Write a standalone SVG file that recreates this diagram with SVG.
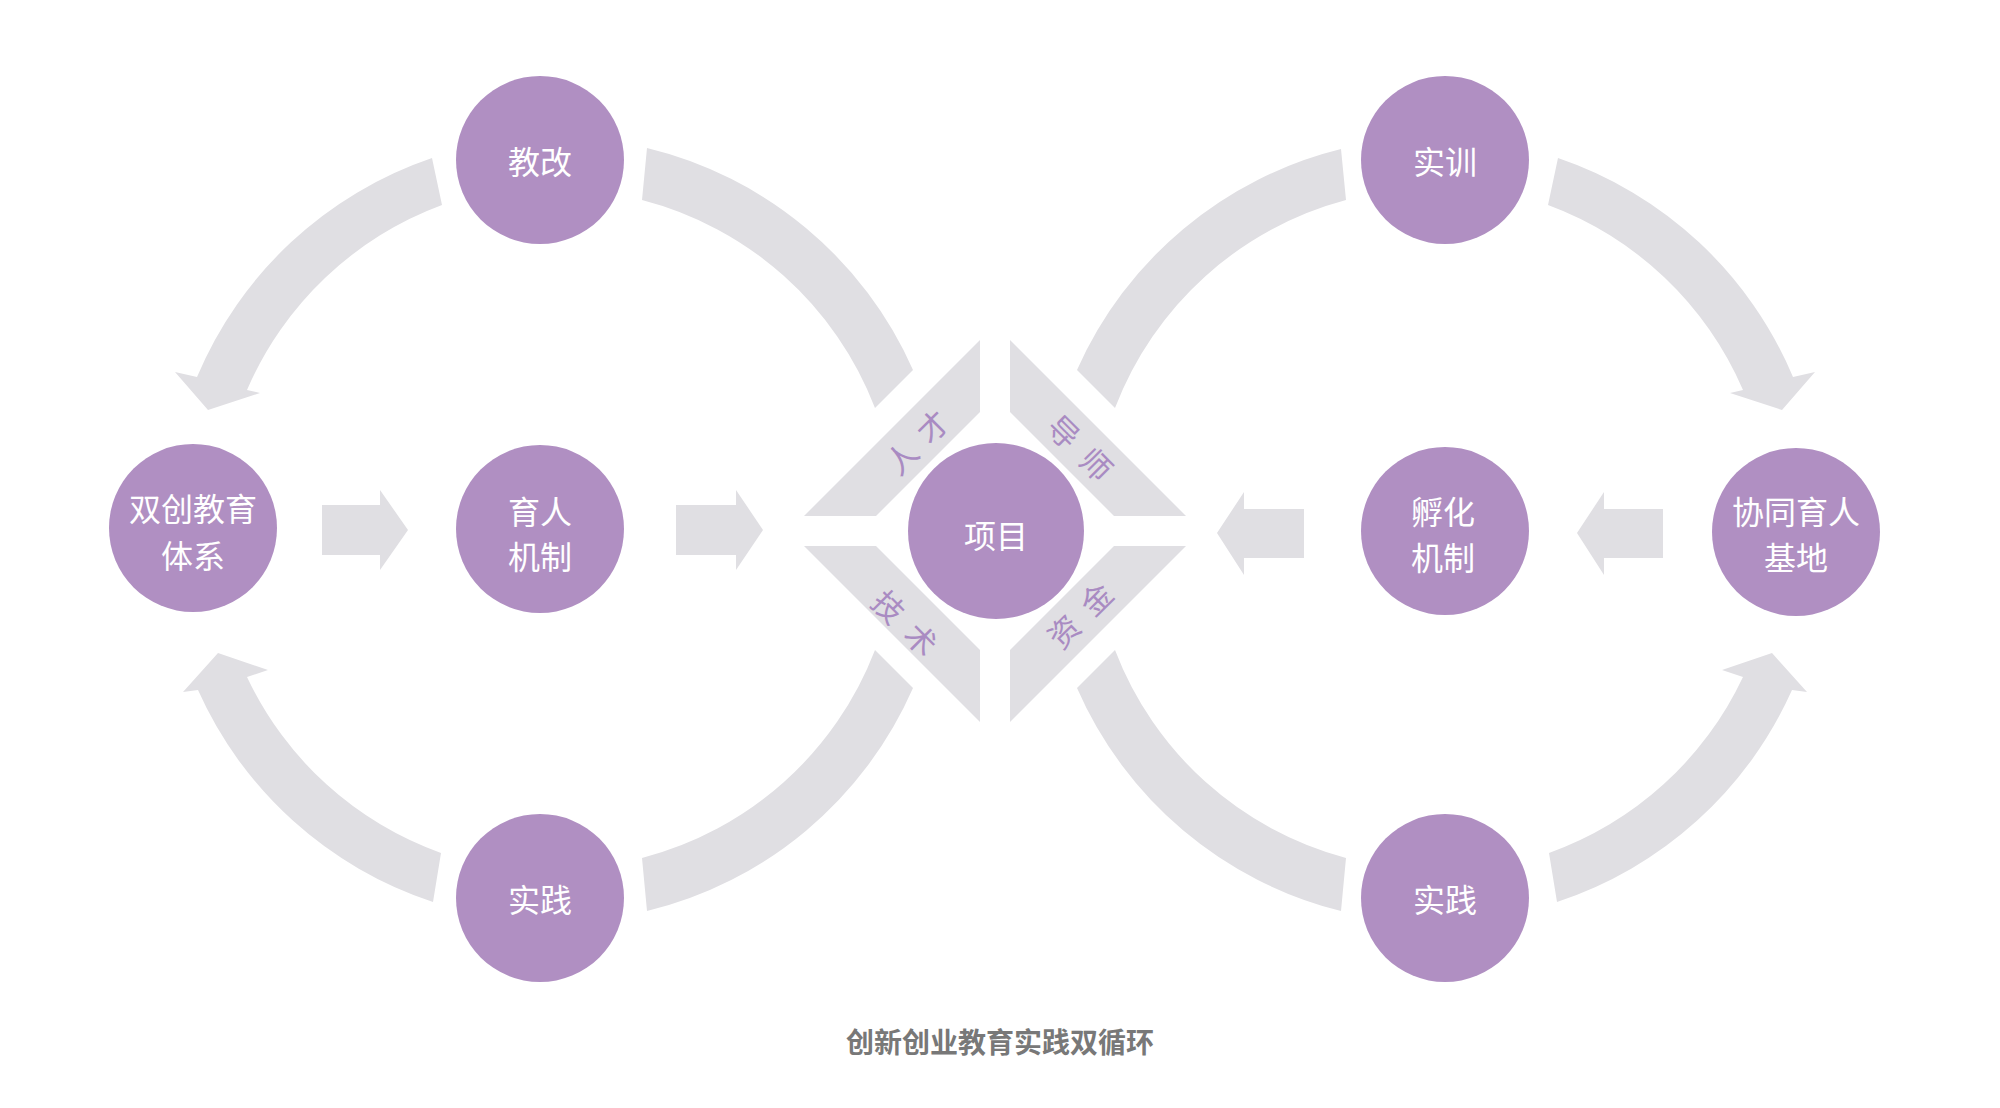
<svg xmlns="http://www.w3.org/2000/svg" width="2000" height="1108" viewBox="0 0 2000 1108">
<style>
.arc{fill:#e0dfe3}
.blk{fill:#e0dfe3}
.band{fill:#e0dfe3}
.node{fill:#b08fc2}
.nt{font-family:"Noto Sans CJK SC","Noto Sans",sans-serif;font-size:32px;fill:#ffffff;text-anchor:middle;dominant-baseline:central}
.bt{font-family:"Noto Sans CJK SC","Noto Sans",sans-serif;font-size:31px;fill:#a98bc2;text-anchor:middle;dominant-baseline:central;font-weight:400}
.title{font-family:"Noto Sans CJK SC","Noto Sans",sans-serif;font-size:28px;fill:#787878;text-anchor:middle;dominant-baseline:central;font-weight:700}
</style>
<rect width="2000" height="1108" fill="#ffffff"/>
<g id="connectors">
  <!-- left loop -->
  <path class="arc" d="M432,158 A391,391 0 0,0 197,377 L175,372 L208,410 L260,393 L247,390 A341,341 0 0,1 442,205 Z"/>
  <path class="arc" d="M433,902 A391,391 0 0,1 198,690 L183,692 L218,653 L268,670 L247,677 A341,341 0 0,0 441,853 Z"/>
  <path class="arc" d="M647,148 A391,391 0 0,1 913,370 L875,408 A341,341 0 0,0 642,200 Z"/>
  <path class="arc" d="M647,911 A391,391 0 0,0 913,688 L875,650 A341,341 0 0,1 642,858 Z"/>
  <!-- right loop -->
  <path class="arc" d="M1558,158 A391,391 0 0,1 1793,377 L1815,372 L1782,410 L1730,393 L1743,390 A341,341 0 0,0 1548,205 Z"/>
  <path class="arc" d="M1557,902 A391,391 0 0,0 1792,690 L1807,692 L1772,653 L1722,670 L1743,677 A341,341 0 0,1 1549,853 Z"/>
  <path class="arc" d="M1341,149 A391,391 0 0,0 1077,370 L1115,408 A341,341 0 0,1 1346,200 Z"/>
  <path class="arc" d="M1341,911 A391,391 0 0,1 1077,688 L1115,650 A341,341 0 0,0 1346,858 Z"/>
  <!-- block arrows -->
  <polygon class="blk" points="322,505 380,505 380,490 408,530 380,570 380,555 322,555"/>
  <polygon class="blk" points="676,505 736,505 736,490 763,530 736,570 736,555 676,555"/>
  <polygon class="blk" points="1304,509 1244,509 1244,492 1217,533 1244,575 1244,558 1304,558"/>
  <polygon class="blk" points="1663,509 1604,509 1604,492 1577,533 1604,575 1604,558 1663,558"/>
</g>
<g id="bands">
  <polygon class="band" points="804,516 980,340 980,412 876,516"/>
  <polygon class="band" points="1186,516 1010,340 1010,412 1114,516"/>
  <polygon class="band" points="804,546 980,722 980,650 876,546"/>
  <polygon class="band" points="1186,546 1010,722 1010,650 1114,546"/>
  <g transform="translate(916,441) rotate(-45)"><text class="bt" x="-22" y="0">人</text><text class="bt" x="22" y="0">才</text></g>
  <g transform="translate(1081,447) rotate(45)"><text class="bt" x="-23" y="0">导</text><text class="bt" x="23" y="0">师</text></g>
  <g transform="translate(906,622) rotate(45)"><text class="bt" x="-23" y="0">技</text><text class="bt" x="23" y="0">术</text></g>
  <g transform="translate(1079,614) rotate(-45)"><text class="bt" x="-23" y="0">资</text><text class="bt" x="23" y="0">金</text></g>
</g>
<g id="node-jiaogai"><circle class="node" cx="540" cy="160" r="84"/><text class="nt" x="540" y="160">教改</text></g>
<g id="node-shuangchuang"><circle class="node" cx="193" cy="528" r="84"/><text class="nt" x="193" y="507">双创教育</text><text class="nt" x="193" y="554">体系</text></g>
<g id="node-yuren"><circle class="node" cx="540" cy="529" r="84"/><text class="nt" x="540" y="510">育人</text><text class="nt" x="540" y="555">机制</text></g>
<g id="node-shijian-left"><circle class="node" cx="540" cy="898" r="84"/><text class="nt" x="540" y="898">实践</text></g>
<g id="node-xiangmu"><circle class="node" cx="996" cy="531" r="88"/><text class="nt" x="996" y="534">项目</text></g>
<g id="node-shixun"><circle class="node" cx="1445" cy="160" r="84"/><text class="nt" x="1445" y="160">实训</text></g>
<g id="node-fuhua"><circle class="node" cx="1445" cy="531" r="84"/><text class="nt" x="1443" y="510">孵化</text><text class="nt" x="1443" y="556">机制</text></g>
<g id="node-xietong"><circle class="node" cx="1796" cy="532" r="84"/><text class="nt" x="1796" y="510">协同育人</text><text class="nt" x="1796" y="556">基地</text></g>
<g id="node-shijian-right"><circle class="node" cx="1445" cy="898" r="84"/><text class="nt" x="1445" y="898">实践</text></g>
<text id="title" class="title" x="1000" y="1041">创新创业教育实践双循环</text>
</svg>
